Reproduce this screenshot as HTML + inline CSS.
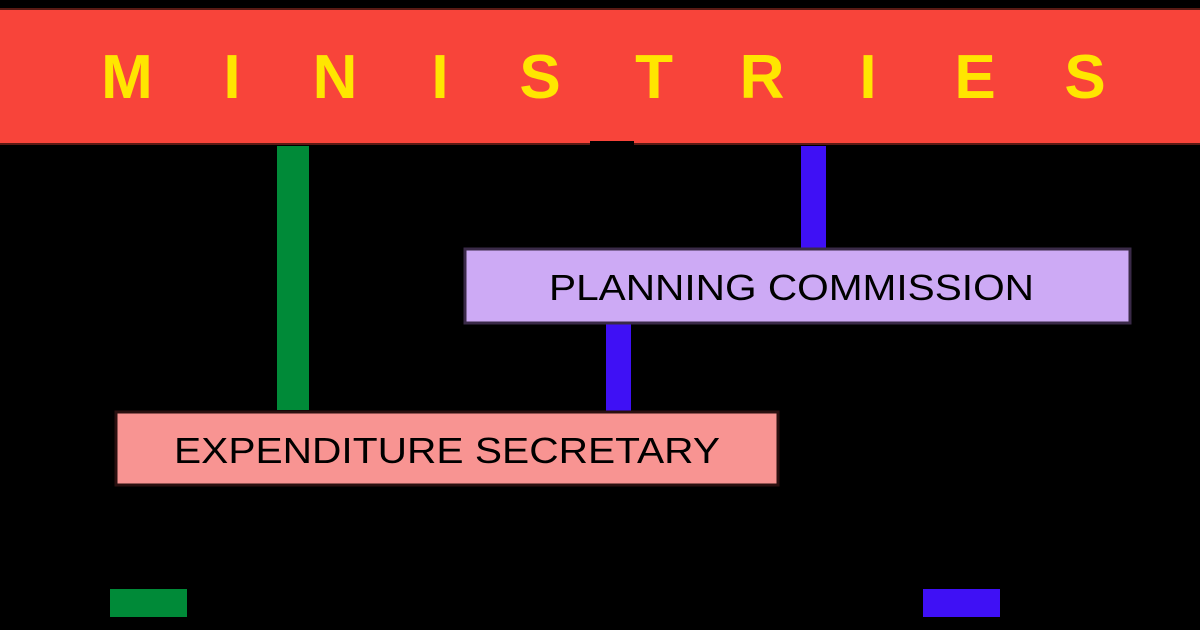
<!DOCTYPE html>
<html><head><meta charset="utf-8"><style>html,body{margin:0;padding:0;background:#000;}svg{display:block}</style></head>
<body>
<svg width="1200" height="630" viewBox="0 0 1200 630" xmlns="http://www.w3.org/2000/svg">
<rect width="1200" height="630" fill="#000"/>
<rect x="-2" y="9" width="1204" height="135" fill="#f8443a" stroke="#5a1a14" stroke-width="2"/>
<rect x="590" y="141" width="44" height="6" fill="#000"/>
<g font-family="Liberation Sans, sans-serif" font-weight="bold" font-size="62" fill="#ffe600" text-anchor="middle">
<text x="127" y="98">M</text><text x="232" y="98">I</text><text x="335" y="98">N</text><text x="440" y="98">I</text><text x="540" y="98">S</text><text x="654" y="98">T</text><text x="762" y="98">R</text><text x="868" y="98">I</text><text x="975" y="98">E</text><text x="1085" y="98">S</text>
</g>
<rect x="277" y="146" width="32" height="264" fill="#008a38"/>
<rect x="801" y="146" width="25" height="102" fill="#3f10f5"/>
<rect x="606" y="323" width="25" height="88" fill="#3f10f5"/>
<rect x="465" y="249" width="665" height="74" fill="#cdaaf5" stroke="#3a2a48" stroke-width="3"/>
<text x="549" y="300" font-family="Liberation Sans, sans-serif" font-size="36" fill="#000" textLength="485" lengthAdjust="spacingAndGlyphs">PLANNING COMMISSION</text>
<rect x="116" y="412" width="662" height="73" fill="#f89492" stroke="#2a1010" stroke-width="3"/>
<text x="174" y="463" font-family="Liberation Sans, sans-serif" font-size="36" fill="#000" textLength="546" lengthAdjust="spacingAndGlyphs">EXPENDITURE SECRETARY</text>
<rect x="110" y="589" width="77" height="28" fill="#008a38"/>
<rect x="923" y="589" width="77" height="28" fill="#3f10f5"/>
</svg>
</body></html>
